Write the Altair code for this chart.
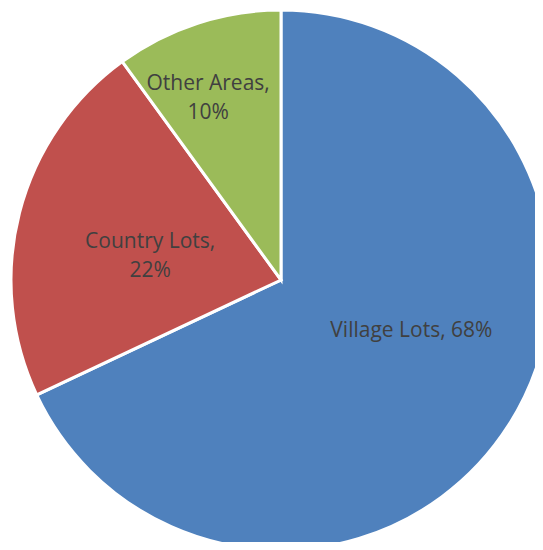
import altair as alt
import pandas as pd

categories = ["Village Lots", "Country Lots", "Other Areas"]
values = [68, 22, 10]
labels = ["Village Lots, 68%", "Country Lots,\n22%", "Other Areas,\n10%"]
colors = ["#4F81BD", "#C0504D", "#9BBB59"]

df = pd.DataFrame({
    "category": categories,
    "value": values,
    "label": labels,
    "idx": list(range(len(categories))),
})

CX, CY, R = 273, 272, 270

base = alt.Chart(df).encode(
    theta=alt.Theta("value:Q", stack=True),
    order=alt.Order("idx:Q"),
)

pie = base.mark_arc(radius=R, stroke="white", strokeWidth=3).encode(
    color=alt.Color("category:N", scale=alt.Scale(domain=categories, range=colors), legend=None),
    x=alt.value(CX),
    y=alt.value(CY),
)


def label_layer(cat, radius, dx, dy):
    return base.transform_calculate(
        lab=f"datum.category == '{cat}' ? datum.label : ''"
    ).mark_text(
        radius=radius, dx=dx, dy=dy, font="Open Sans", fontSize=21, color="#404040",
        lineBreak="\n", lineHeight=29, align="center", baseline="middle",
    ).encode(
        text="lab:N",
        x=alt.value(CX),
        y=alt.value(CY),
    )


chart = alt.layer(
    pie,
    label_layer("Village Lots", 139, 13, -23),
    label_layer("Country Lots", 133, -2, -5),
    label_layer("Other Areas", 197, -12, -9),
).properties(
    width=527, height=534, padding=0, autosize=alt.AutoSizeParams(type="none"),
).configure_view(stroke=None)

chart.save("out.html", embed_options={"renderer": "svg", "actions": False})
